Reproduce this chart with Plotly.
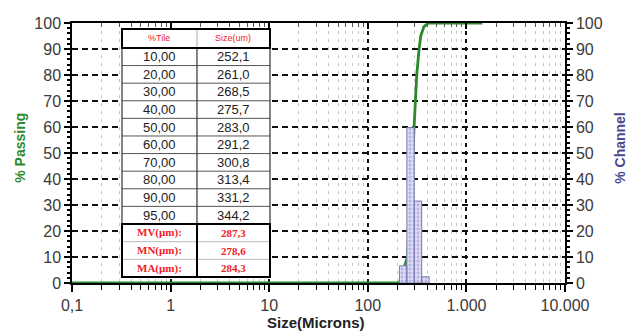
import plotly.graph_objects as go

# ---------------- data ----------------
# histogram channels (microns) and % channel values
bin_edges = [209.3, 248.9, 296.0, 352.0, 418.6]
channel_pct = [6.6, 59.8, 31.5, 2.4]

# cumulative % passing curve
cum_size = [0.1, 209.3, 230.0, 252.1, 261.0, 268.5, 275.7, 283.0, 291.2, 300.8,
            313.4, 331.2, 344.2, 370.0, 410.0, 1450.0]
cum_pct = [0, 0, 5, 10, 20, 30, 40, 50, 60, 70, 80, 90, 95, 98.5, 100, 100]

# table
tile_labels = ["10,00", "20,00", "30,00", "40,00", "50,00", "60,00", "70,00", "80,00", "90,00", "95,00"]
tile_sizes = ["252,1", "261,0", "268,5", "275,7", "283,0", "291,2", "300,8", "313,4", "331,2", "344,2"]
stat_labels = ["MV(µm):", "MN(µm):", "MA(µm):"]
stat_values = ["287,3", "278,6", "284,3"]

x_tickvals = [0.1, 1, 10, 100, 1000, 10000]
x_ticktext = ["0,1", "1", "10", "100", "1.000", "10.000"]
minor_vals = [m * 10 ** e for e in range(-1, 4) for m in range(2, 10)]

GREEN = "#2a8a2a"
BLUE = "#4a4a90"
RED = "#ee1c25"

# ---------------- figure ----------------
fig = go.Figure()

# histogram as rectangles (log x axis)
hx, hy = [], []
for i, v in enumerate(channel_pct):
    a, b = bin_edges[i], bin_edges[i + 1]
    hx += [a, a, b, b, a, None]
    hy += [0, v, v, 0, 0, None]
fig.add_trace(go.Scatter(
    x=hx, y=hy, mode="lines", fill="toself",
    fillcolor="#d6d6f2",
    fillpattern=dict(shape=".", fgcolor="#8c8cc8", bgcolor="#dcdcf4", size=4, solidity=0.4),
    line=dict(color="#7a7ab4", width=1),
    yaxis="y2", xaxis="x", showlegend=False, hoverinfo="skip"))

# cumulative curve
fig.add_trace(go.Scatter(x=cum_size, y=cum_pct, mode="lines",
                         line=dict(color=GREEN, width=2.8),
                         showlegend=False))

# invisible trace for top mirror axis
fig.add_trace(go.Scatter(x=[1], y=[0], xaxis="x2", yaxis="y", mode="markers",
                         marker=dict(opacity=0), showlegend=False, hoverinfo="skip"))

tickfont = dict(family="Liberation Sans, Arial", size=16, color="#3a3a3a")

fig.update_layout(
    width=632, height=331,
    margin=dict(l=72, r=67, t=23, b=48, autoexpand=False),
    paper_bgcolor="white", plot_bgcolor="white",
    xaxis=dict(type="log", range=[-1, 4], tickvals=x_tickvals, ticktext=x_ticktext,
               ticks="outside", ticklen=7, tickwidth=2, tickcolor="black",
               showline=True, linecolor="black", linewidth=1.5,
               showgrid=True, gridcolor="#111", griddash="4px,4px", gridwidth=2,
               zeroline=False, tickfont=tickfont, automargin=False,
               minor=dict(tickvals=minor_vals, ticks="outside", ticklen=5, tickwidth=1.3,
                          tickcolor="black", showgrid=True, gridcolor="#c4c4c4",
                          griddash="3px,5px", gridwidth=1)),
    xaxis2=dict(type="log", range=[-1, 4], overlaying="x", side="top",
                tickvals=x_tickvals, showticklabels=False, automargin=False,
                ticks="inside", ticklen=6, tickwidth=2, tickcolor="black",
                showline=True, linecolor="black", linewidth=1.5, showgrid=False,
                minor=dict(tickvals=minor_vals, ticks="inside", ticklen=4, tickwidth=1,
                           tickcolor="#555")),
    yaxis=dict(range=[0, 100], dtick=10, ticks="outside", ticklen=6, tickwidth=1.5,
               tickcolor="black", showline=True, linecolor="black", linewidth=1.5,
               showgrid=True, gridcolor="#111", griddash="6px,4px", gridwidth=2,
               zeroline=False, tickfont=tickfont, automargin=False,
               minor=dict(dtick=2, ticks="outside", ticklen=3, tickcolor="black")),
    yaxis2=dict(range=[0, 100], dtick=10, overlaying="y", side="right",
                ticks="outside", ticklen=6, tickwidth=1.5, tickcolor="black",
                showline=True, linecolor="black", linewidth=1.5, showgrid=False,
                zeroline=False, tickfont=tickfont, automargin=False,
                minor=dict(dtick=2, ticks="outside", ticklen=3, tickcolor="black")),
)

# ---------------- table ----------------
x0, xm, x1 = 0.1014, 0.2535, 0.4016
y_top, y_head = 0.977, 0.904
y_mid, y_bot = 0.227, 0.023
n_rows = len(tile_labels)
rh = (y_head - y_mid) / n_rows
sh = (y_mid - y_bot) / len(stat_labels)

shapes = []
def rect(xa, ya, xb, yb, lw, fill=None, color="black"):
    shapes.append(dict(type="rect", xref="paper", yref="paper", x0=xa, y0=ya, x1=xb, y1=yb,
                       line=dict(color=color, width=lw), fillcolor=fill, layer="above"))
def line(xa, ya, xb, yb, lw, color="black"):
    shapes.append(dict(type="line", xref="paper", yref="paper", x0=xa, y0=ya, x1=xb, y1=yb,
                       line=dict(color=color, width=lw), layer="above"))

rect(x0, y_bot, x1, y_top, 0, fill="white", color="white")
for i in range(1, n_rows):
    line(x0, y_head - i * rh, x1, y_head - i * rh, 1, "#555")
line(x0, y_mid, x0, y_head, 1.2, "#333")
line(x1, y_mid, x1, y_head, 1.2, "#333")
line(xm, y_mid, xm, y_head, 1.2, "#333")
for i in range(1, len(stat_labels)):
    line(x0, y_mid - i * sh, x1, y_mid - i * sh, 0.8, "#aaa")
line(xm, y_head, xm, y_top, 0.8, "#999")
rect(x0, y_head, x1, y_top, 2)
rect(x0, y_bot, x1, y_mid, 2)
line(xm, y_bot, xm, y_mid, 2)

ann = []
hfont = dict(family="Liberation Sans, Arial", size=9, color=RED)
ann.append(dict(x=(x0 + xm) / 2, y=(y_top + y_head) / 2, text="%Tile", font=hfont))
ann.append(dict(x=(xm + x1) / 2, y=(y_top + y_head) / 2, text="Size(um)", font=hfont))
dfont = dict(family="Liberation Sans, Arial", size=13, color="#222")
for i, (a, b) in enumerate(zip(tile_labels, tile_sizes)):
    yc = y_head - (i + 0.5) * rh
    ann.append(dict(x=(x0 + xm) / 2, y=yc, text=a, font=dfont))
    ann.append(dict(x=(xm + x1) / 2, y=yc, text=b, font=dfont))
sfont = dict(family="Liberation Serif, Times New Roman", size=11, color=RED)
for i, (a, b) in enumerate(zip(stat_labels, stat_values)):
    yc = y_mid - (i + 0.5) * sh
    ann.append(dict(x=(x0 + xm) / 2, y=yc, text=f"<b>{a}</b>", font=sfont))
    ann.append(dict(x=(xm + x1) / 2, y=yc, text=f"<b>{b}</b>", font=sfont))

# axis titles
ann.append(dict(x=-0.1055, y=0.52, text="<b>% Passing</b>", textangle=-90,
                font=dict(family="Liberation Sans, Arial", size=14, color=GREEN)))
ann.append(dict(x=1.1116, y=0.52, text="<b>% Channel</b>", textangle=-90,
                font=dict(family="Liberation Sans, Arial", size=14, color=BLUE)))
ann.append(dict(x=0.495, y=-0.15, text="<b>Size(Microns)</b>",
                font=dict(family="Liberation Sans, Arial", size=15, color="#222")))
for a in ann:
    a.update(xref="paper", yref="paper", showarrow=False, xanchor="center", yanchor="middle")

fig.update_layout(shapes=shapes, annotations=ann)
fig.write_html("out.html", config={"displayModeBar": False},
               post_script="document.body.style.margin='0';document.body.style.overflow='hidden';")
